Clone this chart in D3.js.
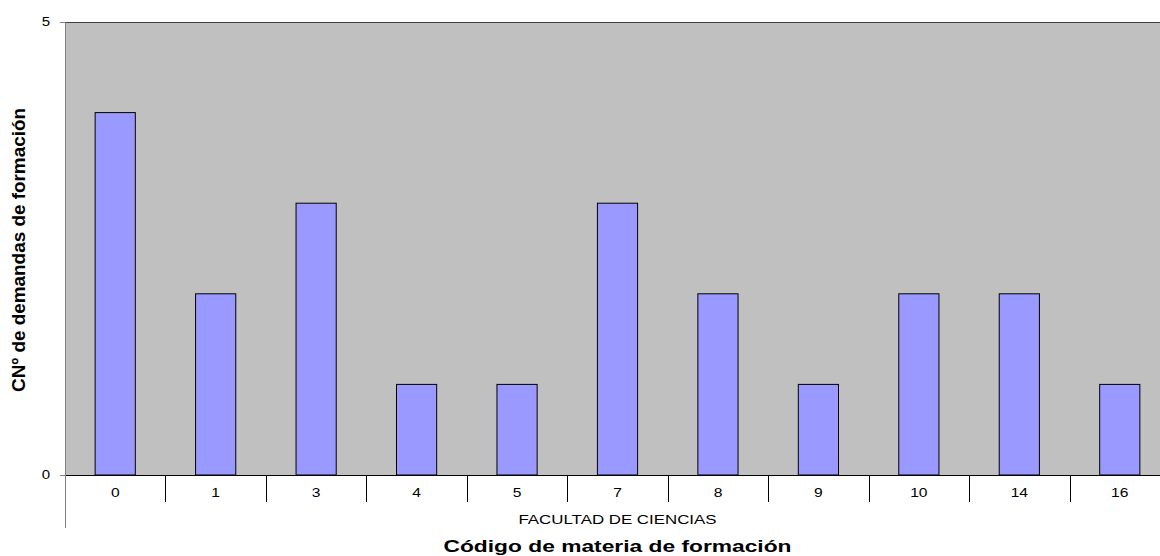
<!DOCTYPE html>
<html><head><meta charset="utf-8">
<script src="https://cdn.jsdelivr.net/npm/d3@7"></script>
<style>body{margin:0;background:#fff}svg{display:block}text{font-family:Arial,"Liberation Sans",sans-serif}</style>
</head><body>
<script>
const categories = ["0","1","3","4","5","7","8","9","10","14","16"];
const values = [4,2,3,1,1,3,2,1,2,2,1];
const yTicks = [0,5];
const groupLabel = "FACULTAD DE CIENCIAS";
const xTitle = "Código de materia de formación";
const yTitle = "CNº de demandas de formación";

(function(){
const W=1160,H=556;
const svg=d3.select("body").append("svg").attr("width",W).attr("height",H);
const pL=65, pR=1170, pT=22, pB=475;
const x=d3.scaleBand().domain(categories).range([pL,pR]).paddingInner(0).paddingOuter(0);
const y=d3.scaleLinear().domain([0,5]).range([pB,pT]);

svg.append("rect").attr("x",pL).attr("y",pT).attr("width",pR-pL).attr("height",pB-pT).attr("fill","#c0c0c0");
svg.append("line").attr("x1",pL).attr("x2",pR).attr("y1",pT+0.5).attr("y2",pT+0.5).attr("stroke","#404040").attr("stroke-width",1.2);

const bw = x.bandwidth()*0.4;
svg.selectAll("rect.bar").data(values).join("rect").attr("class","bar")
  .attr("x",(d,i)=>x(categories[i])+(x.bandwidth()-bw)/2)
  .attr("y",d=>y(d)).attr("width",bw).attr("height",d=>pB-y(d))
  .attr("fill","#9999ff").attr("stroke","#000").attr("stroke-width",1);

const ya=svg.append("g").attr("transform",`translate(${pL},0)`)
  .call(d3.axisLeft(y).tickValues(yTicks).tickSize(5).tickPadding(7).tickFormat(d3.format("d")));
ya.select(".domain").attr("stroke","#808080");
ya.selectAll(".tick line").attr("stroke","#808080");
ya.selectAll("text").attr("font-size",12).attr("fill","#000").attr("font-family","Arial, 'Liberation Sans', sans-serif")
  .attr("transform","scale(1.25,1)");

const xa=svg.append("g").attr("transform",`translate(0,${pB})`)
  .call(d3.axisBottom(x).tickSize(0).tickPadding(13));
xa.select(".domain").attr("stroke","#000");
xa.selectAll("text").attr("font-size",12).attr("fill","#000").attr("font-family","Arial, 'Liberation Sans', sans-serif")
  .attr("transform","scale(1.3,1)");

const seps = categories.map(c=>x(c)).slice(1);
svg.selectAll("line.sep").data(seps).join("line").attr("class","sep")
  .attr("x1",d=>Math.round(d)+0.5).attr("x2",d=>Math.round(d)+0.5).attr("y1",pB).attr("y2",pB+27)
  .attr("stroke","#000");
svg.append("line").attr("x1",pL+0.5).attr("x2",pL+0.5).attr("y1",pB).attr("y2",pB+53).attr("stroke","#808080");

const cx=(pL+pR)/2;
svg.append("text").attr("x",cx-99).attr("y",524).attr("font-size",12)
  .attr("textLength",198).attr("lengthAdjust","spacingAndGlyphs").text(groupLabel);
svg.append("text").attr("x",cx-174).attr("y",552).attr("font-size",16.5).attr("font-weight","bold")
  .attr("textLength",348).attr("lengthAdjust","spacingAndGlyphs").text(xTitle);
const yc=250;
svg.append("text").attr("transform",`translate(25,${yc+142}) rotate(-90)`)
  .attr("font-size",19).attr("font-weight","bold")
  .attr("textLength",284).attr("lengthAdjust","spacingAndGlyphs").text(yTitle);
})();
</script>
</body></html>
